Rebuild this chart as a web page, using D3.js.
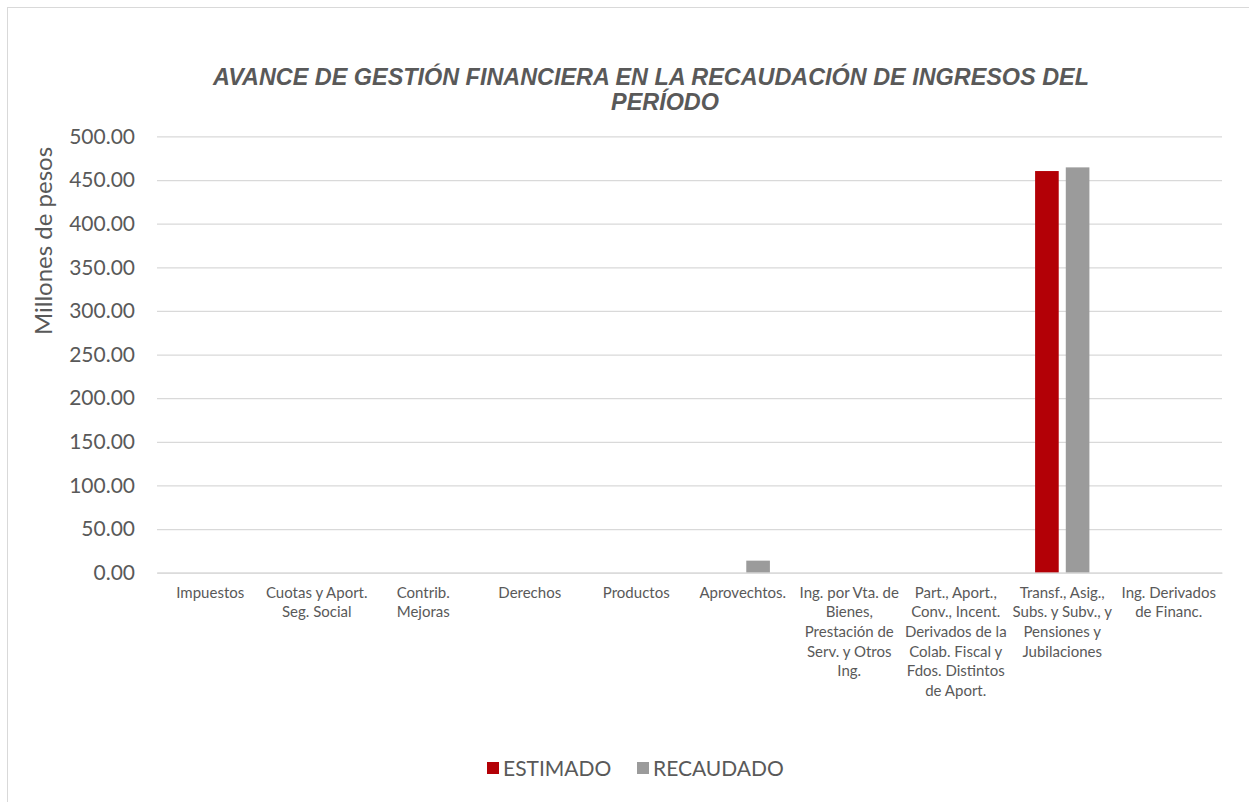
<!DOCTYPE html>
<html>
<head>
<meta charset="utf-8">
<script src="https://cdn.jsdelivr.net/npm/d3@7"></script>
<style>
  body { margin: 0; background: #fff; }
  svg { display: block; }
</style>
</head>
<body>
<svg id="chart" width="1249" height="802"></svg>
<script>
// categories (full names) and the wrapped tick labels as shown on the x axis
const categories = [
  "Impuestos", "Cuotas y Aport. Seg. Social", "Contrib. Mejoras", "Derechos", "Productos",
  "Aprovechtos.", "Ing. por Vta. de Bienes, Prestación de Serv. y Otros Ing.",
  "Part., Aport., Conv., Incent. Derivados de la Colab. Fiscal y Fdos. Distintos de Aport.",
  "Transf., Asig., Subs. y Subv., y Pensiones y Jubilaciones", "Ing. Derivados de Financ."
];
const tickLines = [
  ["Impuestos"],
  ["Cuotas y Aport.", "Seg. Social"],
  ["Contrib.", "Mejoras"],
  ["Derechos"],
  ["Productos"],
  ["Aprovechtos."],
  ["Ing. por Vta. de", "Bienes,", "Prestación de", "Serv. y Otros", "Ing."],
  ["Part., Aport.,", "Conv., Incent.", "Derivados de la", "Colab. Fiscal y", "Fdos. Distintos", "de Aport."],
  ["Transf., Asig.,", "Subs. y Subv., y", "Pensiones y", "Jubilaciones"],
  ["Ing. Derivados", "de Financ."]
];
const seriesNames = ["ESTIMADO", "RECAUDADO"];
const estimado  = [0, 0, 0, 0, 0, 0, 0, 0, 460.3, 0];
const recaudado = [0, 0, 0, 0, 0, 13.8, 0, 0, 464.5, 0];
const yTicks = [0, 50, 100, 150, 200, 250, 300, 350, 400, 450, 500];
const colors = ["#b30006", "#9b9b9b"];

const svg = d3.select('#chart');
const textColor = '#595959';
const bodyFont = 'Lato, "Open Sans", sans-serif';

// chart border
svg.append('rect')
  .attr('x', 7.5).attr('y', 7.5)
  .attr('width', 1260).attr('height', 820)
  .attr('fill', 'none').attr('stroke', '#d9d9d9');

const plot = { left: 157, right: 1222, top: 136.4, bottom: 572.7 };

const x0 = d3.scaleBand()
  .domain(categories)
  .range([plot.left, plot.right])
  .paddingInner(0.49)
  .paddingOuter(0.245);

const x1 = d3.scaleBand()
  .domain(seriesNames)
  .range([0, x0.bandwidth()])
  .paddingInner(0.23);

const y = d3.scaleLinear()
  .domain([0, 500])
  .range([plot.bottom, plot.top]);

// gridlines + y labels
const yAxis = svg.append('g')
  .attr('transform', `translate(${plot.left},0)`)
  .call(d3.axisLeft(y).tickValues(yTicks).tickFormat(d3.format('.2f'))
    .tickSize(-(plot.right - plot.left)).tickPadding(22));
yAxis.select('.domain').remove();
yAxis.selectAll('.tick line').attr('stroke', '#d9d9d9').attr('stroke-width', 1.3);
yAxis.selectAll('.tick text')
  .attr('fill', textColor)
  .style('font-family', bodyFont)
  .style('font-size', '21px');

// bars
const rows = categories.map((c, i) => ({ cat: c, vals: [estimado[i], recaudado[i]] }));
const groups = svg.append('g').selectAll('g')
  .data(rows)
  .join('g')
  .attr('transform', (d) => `translate(${x0(d.cat)},0)`);

groups.selectAll('rect')
  .data((d) => d.vals.map((v, k) => ({ s: seriesNames[k], v: v, k: k })).filter((e) => e.v > 0))
  .join('rect')
  .attr('x', (d) => x1(d.s))
  .attr('y', (d) => y(d.v))
  .attr('width', x1.bandwidth())
  .attr('height', (d) => y(0) - y(d.v))
  .attr('fill', (d) => colors[d.k]);

// x axis line and tick labels
const xAxis = svg.append('g')
  .attr('transform', `translate(0,${plot.bottom})`)
  .call(d3.axisBottom(x0).tickSize(0).tickFormat(''));
xAxis.select('.domain').attr('stroke', '#d9d9d9').attr('stroke-width', 1.3);

const labels = svg.append('g')
  .selectAll('text')
  .data(categories)
  .join('text')
  .attr('x', (d) => x0(d) + x0.bandwidth() / 2)
  .attr('y', plot.bottom + 25)
  .attr('text-anchor', 'middle')
  .attr('fill', textColor)
  .style('font-family', bodyFont)
  .style('font-size', '15px');
labels.selectAll('tspan')
  .data((d, i) => tickLines[i])
  .join('tspan')
  .attr('x', function () { return d3.select(this.parentNode).attr('x'); })
  .attr('dy', (d, j) => (j === 0 ? 0 : 19.6))
  .text((d) => d);

// title
const title = svg.append('text')
  .attr('fill', textColor)
  .attr('text-anchor', 'middle')
  .style('font-family', '"Liberation Sans", Arial, sans-serif')
  .style('font-size', '23.4px')
  .style('font-weight', 'bold')
  .style('font-style', 'italic');
title.append('tspan').attr('x', 651).attr('y', 85)
  .text('AVANCE DE GESTIÓN FINANCIERA EN LA RECAUDACIÓN DE INGRESOS DEL');
title.append('tspan').attr('x', 665).attr('y', 110).text('PERÍODO');

// y axis title
svg.append('text')
  .attr('transform', 'translate(52,241) rotate(-90)')
  .attr('text-anchor', 'middle')
  .attr('fill', textColor)
  .style('font-family', bodyFont)
  .style('font-size', '24px')
  .text('Millones de pesos');

// legend
const legend = svg.append('g').attr('transform', 'translate(487,768)');
const legX = [0, 150];
seriesNames.forEach((s, k) => {
  const g = legend.append('g').attr('transform', `translate(${legX[k]},0)`);
  g.append('rect').attr('x', 0).attr('y', -6).attr('width', 12).attr('height', 12).attr('fill', colors[k]);
  g.append('text').attr('x', 16).attr('y', 7.5)
    .attr('fill', textColor)
    .style('font-family', bodyFont)
    .style('font-size', '21px')
    .text(s);
});
</script>
</body>
</html>
